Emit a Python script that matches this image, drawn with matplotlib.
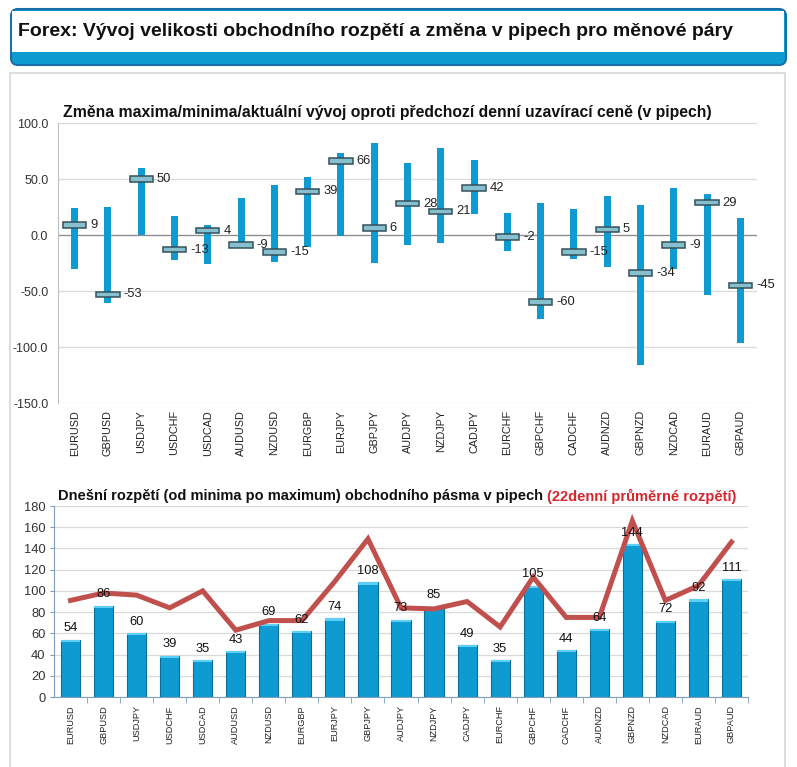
import matplotlib.pyplot as plt
from matplotlib.patches import FancyBboxPatch, Rectangle

pairs = ["EURUSD", "GBPUSD", "USDJPY", "USDCHF", "USDCAD", "AUDUSD", "NZDUSD",
         "EURGBP", "EURJPY", "GBPJPY", "AUDJPY", "NZDJPY", "CADJPY", "EURCHF",
         "GBPCHF", "CADCHF", "AUDNZD", "GBPNZD", "NZDCAD", "EURAUD", "GBPAUD"]

# top chart: change of max / min / current vs previous close (pips)
high = [24, 25, 60, 17, 9, 33, 45, 52, 73, 82, 64, 78, 67, 20, 29, 23, 35, 27, 42, 37, 15]
low = [-30, -61, 0, -22, -26, -10, -24, -11, -1, -25, -9, -7, 19, -14, -75, -21, -29, -116, -30, -54, -96]
current = [9, -53, 50, -13, 4, -9, -15, 39, 66, 6, 28, 21, 42, -2, -60, -15, 5, -34, -9, 29, -45]

# bottom chart: today's range and 22-day average range
today_range = [54, 86, 60, 39, 35, 43, 69, 62, 74, 108, 73, 85, 49, 35, 105, 44, 64, 144, 72, 92, 111]
avg_range = [91, 98, 96, 84, 100, 63, 72, 72, 109, 149, 84, 83, 90, 66, 113, 75, 75, 166, 91, 105, 146]

W, H = 797, 767
BLUE = "#0E9BD2"
RED = "#C0504D"

plt.rcParams['font.family'] = ['Liberation Sans', 'DejaVu Sans']

fig = plt.figure(figsize=(W / 100, H / 100), dpi=100)
fig.patch.set_facecolor("white")


def box(left, top, right, bottom):
    return [left / W, 1 - bottom / H, (right - left) / W, (bottom - top) / H]


# header and panel decoration
bg = fig.add_axes([0, 0, 1, 1])
bg.set_xlim(0, W)
bg.set_ylim(H, 0)
bg.axis("off")
bg.add_patch(Rectangle((10, 73), 775, 700, facecolor="white", edgecolor="#D8D8D8", lw=1.2))
bg.add_patch(FancyBboxPatch((11, 9), 775, 56, boxstyle="round,pad=0,rounding_size=7",
                            facecolor=BLUE, edgecolor="#1B6FA8", lw=1.5))
bg.add_patch(Rectangle((12.5, 10.5), 772, 41, facecolor="white", edgecolor="none"))
bg.text(18, 31, "Forex: Vývoj velikosti obchodního rozpětí a změna v pipech pro měnové páry",
        fontsize=14.0, fontweight="bold", va="center", ha="left", color="#111111")

x = list(range(len(pairs)))

# top chart
ax1 = fig.add_axes(box(58, 123, 757, 403))
ax1.set_xlim(-0.5, len(pairs) - 0.5)
ax1.set_ylim(-150, 100)
ax1.set_yticks([100, 50, 0, -50, -100, -150])
ax1.set_yticklabels([f"{v:.1f}" for v in [100, 50, 0, -50, -100, -150]], fontsize=9, color="#333333")
ax1.grid(axis="y", color="#D9D9D9", lw=0.9)
ax1.axhline(0, color="#8C8C8C", lw=0.9, zorder=1)
ax1.set_axisbelow(True)
for s in ["top", "right", "bottom"]:
    ax1.spines[s].set_visible(False)
ax1.spines["left"].set_color("#BFBFBF")
ax1.tick_params(axis="y", length=0, pad=7)
ax1.tick_params(axis="x", length=0, pad=5)
ax1.set_xticks(x)
ax1.set_xticklabels(pairs, rotation=90, fontsize=7.8, color="#222222")

ax1.bar(x, [h - l for h, l in zip(high, low)], bottom=low, width=0.21, color=BLUE, zorder=2)
ax1.bar(x, [5] * len(x), bottom=[c - 2.5 for c in current], width=0.7,
        color="#86C0CF", edgecolor="#34505A", lw=1.1, zorder=3)
for xi, c in zip(x, current):
    ax1.text(xi + 0.47, c, f"{c}", fontsize=9.3, va="center", ha="left", color="#222222", zorder=4)

fig.text(63 / W, 1 - 112 / H, "Změna maxima/minima/aktuální vývoj oproti předchozí denní uzavírací ceně (v pipech)",
         fontsize=11.35, fontweight="bold", va="center", ha="left", color="#111111")

# bottom chart
ax2 = fig.add_axes(box(54, 506, 748, 697))
ax2.set_xlim(-0.5, len(pairs) - 0.5)
ax2.set_ylim(0, 180)
ax2.set_yticks(range(0, 181, 20))
ax2.tick_params(axis="y", labelsize=9.3, labelcolor="#333333", length=3, color="#7F9FBF", pad=3)
ax2.grid(axis="y", color="#D9D9D9", lw=0.9)
ax2.set_axisbelow(True)
for s in ["top", "right"]:
    ax2.spines[s].set_visible(False)
ax2.spines["left"].set_color("#7F9FBF")
ax2.spines["bottom"].set_color("#7F9FBF")
ax2.set_xticks(x)
ax2.set_xticklabels(pairs, rotation=90, fontsize=6.6, color="#222222")
ax2.tick_params(axis="x", which="major", length=0, pad=6)
ax2.set_xticks([i + 0.5 for i in x], minor=True)
ax2.tick_params(axis="x", which="minor", length=4, color="#7F9FBF")

ax2.bar(x, today_range, width=0.58, color=BLUE, edgecolor="#0A6F99", lw=0.8, zorder=2)
ax2.bar(x, [2] * len(x), bottom=[v - 2 for v in today_range], width=0.58,
        color="#5FD0F5", edgecolor="none", zorder=3)
ax2.plot(x, avg_range, color=RED, lw=3.6, solid_joinstyle="miter", zorder=4)
for xi, v in zip(x, today_range):
    ax2.text(xi, v + 5, f"{v}", fontsize=9.3, ha="center", va="bottom", color="#111111", zorder=5)

t1 = fig.text(58 / W, 1 - 496 / H, "Dnešní rozpětí (od minima po maximum) obchodního pásma v pipech ",
              fontsize=10.5, fontweight="bold", va="center", ha="left", color="#111111")
fig.canvas.draw()
bb = t1.get_window_extent()
fig.text(bb.x1 / W, 1 - 496 / H, "(22denní průměrné rozpětí)",
         fontsize=10.5, fontweight="bold", va="center", ha="left", color="#D9262C")

fig.savefig("out.png", dpi=100, facecolor="white")
